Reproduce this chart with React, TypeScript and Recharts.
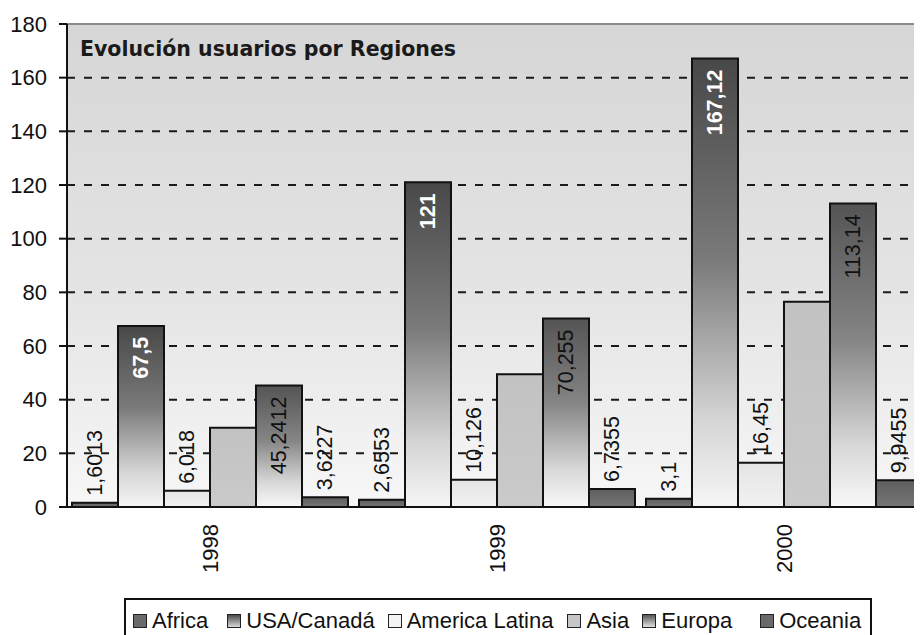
import React from "react";
import {
  BarChart,
  Bar,
  XAxis,
  YAxis,
  CartesianGrid,
  Legend,
  LabelList,
  ReferenceLine,
} from "recharts";

const years = ["1998", "1999", "2000"];
const africa = [1.6013, 2.6553, 3.1];
const usaCanada = [67.5, 121, 167.12];
const americaLatina = [6.018, 10.126, 16.45];
const asia = [29.5, 49.5, 76.5];
const europa = [45.2412, 70.255, 113.14];
const oceania = [3.6227, 6.7355, 9.9455];
const yTicks = [0, 20, 40, 60, 80, 100, 120, 140, 160, 180];
const boundaryTicks = [0, 1, 2, 3];
const title = "Evolución usuarios por Regiones";

const data = years.map((y, i) => ({
  year: y,
  africa: africa[i],
  usa: usaCanada[i],
  latina: americaLatina[i],
  asia: asia[i],
  europa: europa[i],
  oceania: oceania[i],
}));

const FONT = "'Liberation Sans', Arial, sans-serif";

const series = [
  { key: "africa", name: "Africa", fill: "url(#gAfrica)", swatch: "#6a6a6a", label: "outside" },
  { key: "usa", name: "USA/Canadá", fill: "url(#gDark)", swatch: "linear-gradient(#4a4a4a,#d8d8d8)", label: "insideWhite" },
  { key: "latina", name: "America Latina", fill: "url(#gLatina)", swatch: "#f4f4f4", label: "outside" },
  { key: "asia", name: "Asia", fill: "url(#gAsia)", swatch: "#c6c6c6", label: "none" },
  { key: "europa", name: "Europa", fill: "url(#gDark2)", swatch: "linear-gradient(#555,#e0e0e0)", label: "inside" },
  { key: "oceania", name: "Oceania", fill: "url(#gAfrica)", swatch: "#6a6a6a", label: "outside" },
];

// legend spacing (layout only)
const legendGaps = [0, 19, 13, 14, 13, 28];

const fmt = (v: any) => String(v).replace(".", ",");

const OutsideLabel = (p: any) => {
  const cx = p.x + p.width / 2;
  const ay = p.y - 7;
  return (
    <text
      x={cx}
      y={ay}
      transform={`rotate(-90, ${cx}, ${ay})`}
      textAnchor="start"
      dominantBaseline="central"
      fontFamily={FONT}
      fontSize={21.5}
      fill="#111"
    >
      {fmt(p.value)}
    </text>
  );
};

const makeInsideLabel = (white: boolean) => (p: any) => {
  const cx = p.x + p.width / 2;
  const ay = p.y + 11;
  return (
    <text
      x={cx}
      y={ay}
      transform={`rotate(-90, ${cx}, ${ay})`}
      textAnchor="end"
      dominantBaseline="central"
      fontFamily={FONT}
      fontSize={21.5}
      fontWeight={white ? "bold" : "normal"}
      fill={white ? "#ffffff" : "#111"}
    >
      {fmt(p.value)}
    </text>
  );
};

const YearTick = (p: any) => {
  const { x, y, payload } = p;
  return (
    <g transform={`translate(${x},${y})`}>
      <text
        x={-17}
        y={0}
        transform="rotate(-90)"
        textAnchor="end"
        dominantBaseline="central"
        fontFamily={FONT}
        fontSize={22}
        fill="#111"
      >
        {payload.value}
      </text>
    </g>
  );
};

const LegendBox = () => (
  <div
    style={{
      boxSizing: "border-box",
      width: 748,
      height: 50,
      border: "2px solid #111",
      borderBottom: "none",
      background: "#fff",
      display: "flex",
      alignItems: "flex-start",
      paddingTop: 8,
      paddingLeft: 7,
      fontFamily: FONT,
      fontSize: 22,
      color: "#111",
    }}
  >
    {series.map((s, i) => (
      <div
        key={s.key}
        style={{ display: "flex", alignItems: "center", whiteSpace: "nowrap", marginLeft: legendGaps[i] }}
      >
        <span
          style={{
            display: "inline-block",
            width: 12,
            height: 12,
            border: "1.5px solid #222",
            background: s.swatch,
            marginRight: 5,
          }}
        />
        <span>{s.name}</span>
      </div>
    ))}
  </div>
);

export default function App() {
  return (
    <div style={{ position: "relative", width: 914, height: 627, overflow: "hidden" }}>
      <BarChart
        width={925}
        height={627}
        data={data}
        margin={{ top: 16, right: 5, left: 0, bottom: 0 }}
        barGap={0}
        barCategoryGap={5}
      >
        <defs>
          <linearGradient id="plotBg" x1="0" y1="0" x2="0" y2="1">
            <stop offset="0%" stopColor="#d6d6d6" />
            <stop offset="55%" stopColor="#e4e4e4" />
            <stop offset="100%" stopColor="#f7f7f7" />
          </linearGradient>
          <linearGradient id="gDark" x1="0" y1="0" x2="0" y2="1">
            <stop offset="0%" stopColor="#484848" />
            <stop offset="45%" stopColor="#7a7a7a" />
            <stop offset="80%" stopColor="#d4d4d4" />
            <stop offset="100%" stopColor="#f6f6f6" />
          </linearGradient>
          <linearGradient id="gDark2" x1="0" y1="0" x2="0" y2="1">
            <stop offset="0%" stopColor="#545454" />
            <stop offset="45%" stopColor="#858585" />
            <stop offset="80%" stopColor="#d8d8d8" />
            <stop offset="100%" stopColor="#f8f8f8" />
          </linearGradient>
          <linearGradient id="gAfrica" x1="0" y1="0" x2="0" y2="1">
            <stop offset="0%" stopColor="#5e5e5e" />
            <stop offset="100%" stopColor="#767676" />
          </linearGradient>
          <linearGradient id="gLatina" x1="0" y1="0" x2="0" y2="1">
            <stop offset="0%" stopColor="#e4e4e4" />
            <stop offset="100%" stopColor="#f2f2f2" />
          </linearGradient>
          <linearGradient id="gAsia" x1="0" y1="0" x2="0" y2="1">
            <stop offset="0%" stopColor="#c2c2c2" />
            <stop offset="100%" stopColor="#cacaca" />
          </linearGradient>
        </defs>
        <CartesianGrid
          vertical={false}
          stroke="#1a1a1a"
          strokeWidth={2}
          strokeDasharray="8 9"
          fill="url(#plotBg)"
          fillOpacity={1}
        />
        <ReferenceLine y={180} stroke="#8a8a8a" strokeWidth={2} />
        <XAxis
          xAxisId="b"
          type="number"
          domain={[0, 3]}
          ticks={boundaryTicks}
          tick={false}
          axisLine={false}
          tickLine={{ stroke: "#111", strokeWidth: 2 }}
          tickSize={8}
          height={0}
          allowDataOverflow
        />
        <XAxis
          dataKey="year"
          height={128}
          tickLine={false}
          tickSize={0}
          tickMargin={0}
          axisLine={{ stroke: "#111", strokeWidth: 2 }}
          tick={<YearTick />}
          interval={0}
        />
        <YAxis
          width={59}
          domain={[0, 180]}
          ticks={yTicks}
          tickSize={8}
          tickMargin={12}
          axisLine={{ stroke: "#111", strokeWidth: 2 }}
          tickLine={{ stroke: "#111", strokeWidth: 2 }}
          tick={{ fontFamily: FONT, fontSize: 22, fill: "#111" }}
          interval={0}
        />
        <Legend
          layout="vertical"
          align="center"
          verticalAlign="middle"
          content={<LegendBox />}
          wrapperStyle={{ left: 116, top: 590, width: 748, height: 50 }}
        />
        {series.map((s) => (
          <Bar
            key={s.key}
            dataKey={s.key}
            name={s.name}
            fill={s.fill}
            stroke="#111"
            strokeWidth={2}
            isAnimationActive={false}
          >
            {s.label === "outside" && <LabelList dataKey={s.key} content={<OutsideLabel />} />}
            {s.label === "insideWhite" && (
              <LabelList dataKey={s.key} content={makeInsideLabel(true)} />
            )}
            {s.label === "inside" && <LabelList dataKey={s.key} content={makeInsideLabel(false)} />}
          </Bar>
        ))}
      </BarChart>
      <div
        style={{
          position: "absolute",
          left: 72,
          top: 31,
          fontFamily: "'DejaVu Sans', Verdana, sans-serif",
          fontWeight: "bold",
          fontSize: 20.5,
          lineHeight: "21px",
          color: "#1a1a1a",
          whiteSpace: "nowrap",
        }}
      >
        {title}
      </div>
    </div>
  );
}
